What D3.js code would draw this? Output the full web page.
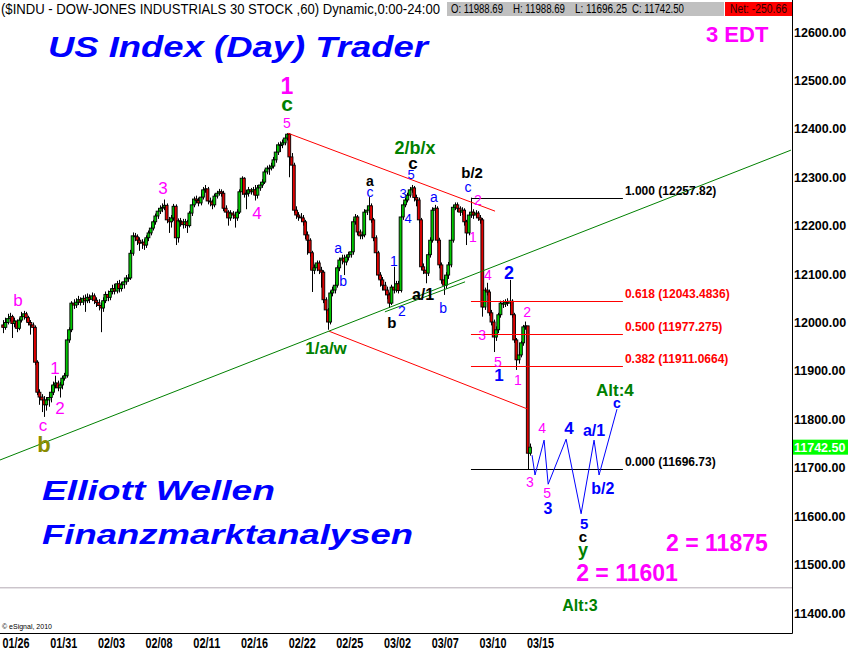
<!DOCTYPE html>
<html><head><meta charset="utf-8">
<script src="https://cdn.jsdelivr.net/npm/d3@7"></script>
<style>body{margin:0;background:#fff}svg{display:block}</style>
</head><body>
<svg id="c" width="848" height="653"></svg>
<script>
// ---------- DATA (hourly bars, 7 per trading day) ----------
const dates = ["01/26","01/27","01/28","01/31","02/01","02/02","02/03","02/04","02/07","02/08","02/09","02/10","02/11","02/14","02/15","02/16","02/17","02/18","02/22","02/23","02/24","02/25","02/28","03/01","03/02","03/03","03/04","03/07","03/08","03/09","03/10","03/11","03/14","03/15"];
const dateLabelDays = [0,3,6,9,12,15,18,21,24,27,30,33];
const firstOpen = 11995;
const closes = [
 [11990,12000,12008,12012,11998,12003,11988],
 [12005,12012,12018,12010,12000,11995,11990],
 [11918,11856,11846,11840,11830,11840,11845],
 [11856,11871,11875,11865,11871,11885,11890],
 [11964,11985,12040,12036,12042,12047,12042],
 [12050,12045,12052,12048,12055,12046,12041],
 [12035,12030,12045,12058,12052,12064,12070],
 [12065,12080,12070,12078,12084,12092,12092],
 [12143,12179,12177,12170,12164,12166,12160],
 [12175,12185,12195,12208,12220,12230,12236],
 [12238,12242,12212,12208,12216,12240,12175],
 [12210,12208,12202,12208,12200,12226,12243],
 [12255,12252,12247,12259,12274,12276,12251],
 [12249,12243,12261,12267,12270,12267,12236],
 [12228,12216,12226,12222,12216,12228,12270],
 [12298,12265,12267,12274,12270,12274,12263],
 [12278,12284,12290,12311,12319,12319,12323],
 [12336,12352,12367,12367,12371,12381,12389],
 [12342,12325,12232,12222,12218,12216,12208],
 [12181,12170,12144,12108,12113,12123,12108],
 [12104,12047,12026,12001,12061,12067,12077],
 [12113,12129,12133,12125,12135,12140,12146],
 [12208,12218,12187,12179,12181,12228,12232],
 [12241,12212,12175,12144,12098,12088,12077],
 [12067,12057,12040,12073,12067,12080,12066],
 [12218,12243,12253,12263,12274,12278,12258],
 [12253,12212,12115,12108,12102,12140,12170],
 [12232,12236,12170,12119,12088,12077,12098],
 [12119,12170,12238,12243,12236,12228,12232],
 [12208,12185,12222,12228,12222,12226,12216],
 [12212,12032,12067,12063,12020,12001,11970],
 [11985,12016,12040,12038,12042,12040,12044],
 [12016,11964,11923,11933,11958,11991,11993],
 [11730,11742.5]
];
const highs = [
 [12005,12010,12018,12020,12016,12010,12006],
 [12010,12022,12024,12022,12014,12005,12000],
 [11994,11922,11862,11852,11848,11846,11852],
 [11870,11878,11890,11880,11877,11890,11896],
 [11968,11990,12044,12048,12050,12055,12052],
 [12056,12058,12060,12058,12062,12060,12052],
 [12048,12040,12052,12064,12066,12070,12078],
 [12080,12086,12088,12084,12090,12098,12100],
 [12150,12186,12185,12182,12176,12172,12172],
 [12180,12190,12200,12212,12225,12236,12242],
 [12246,12254,12246,12218,12222,12245,12244],
 [12215,12216,12214,12214,12212,12230,12248],
 [12260,12262,12258,12266,12280,12284,12280],
 [12258,12254,12266,12272,12276,12275,12272],
 [12242,12232,12232,12230,12228,12234,12275],
 [12302,12300,12274,12280,12278,12280,12284],
 [12284,12290,12296,12316,12324,12326,12330],
 [12342,12358,12372,12374,12378,12386,12391],
 [12391,12350,12330,12240,12228,12226,12222],
 [12212,12188,12174,12148,12120,12128,12128],
 [12115,12108,12052,12030,12066,12074,12084],
 [12118,12134,12140,12140,12140,12146,12152],
 [12214,12224,12222,12192,12188,12234,12240],
 [12259,12246,12216,12180,12148,12104,12094],
 [12084,12074,12062,12078,12115,12086,12086],
 [12222,12248,12258,12268,12280,12284,12282],
 [12264,12258,12216,12122,12114,12145,12176],
 [12238,12243,12240,12175,12124,12094,12104],
 [12125,12175,12243,12248,12248,12240,12238],
 [12236,12212,12228,12257.82,12234,12232,12230],
 [12222,12216,12072,12082,12068,12026,12006],
 [11992,12020,12045,12046,12048,12050,12088],
 [12048,12020,11968,11940,11962,11995,12002],
 [11993,11750]
];
const lows = [
 [11978,11985,11996,12002,11968,11990,11980],
 [11984,12000,12006,12002,11994,11975,11982],
 [11912,11850,11830,11815,11805,11818,11826],
 [11835,11850,11864,11858,11845,11862,11880],
 [11886,11958,11980,12028,12030,12036,12035],
 [12036,12022,12040,12040,12044,12038,12032],
 [12025,11980,12022,12040,12044,12046,12058],
 [12058,12060,12062,12064,12070,12078,12084],
 [12088,12138,12168,12160,12148,12152,12150],
 [12154,12168,12180,12190,12202,12214,12224],
 [12228,12232,12205,12185,12196,12210,12160],
 [12165,12198,12194,12195,12185,12196,12220],
 [12238,12246,12240,12242,12254,12268,12244],
 [12240,12234,12238,12256,12262,12260,12230],
 [12220,12200,12210,12214,12196,12210,12224],
 [12264,12258,12234,12260,12264,12264,12252],
 [12256,12272,12278,12286,12306,12305,12314],
 [12318,12330,12346,12352,12360,12366,12376],
 [12300,12318,12226,12214,12210,12208,12200],
 [12172,12140,12136,12063,12100,12106,12100],
 [12072,12040,12018,11985,11996,12054,12060],
 [12072,12106,12120,12098,12118,12128,12134],
 [12140,12202,12180,12172,12172,12176,12222],
 [12226,12206,12168,12136,12090,12074,12066],
 [12058,12048,12030,12036,12060,12062,12060],
 [12062,12212,12238,12248,12258,12268,12250],
 [12240,12205,12108,12100,12081,12096,12134],
 [12165,12226,12164,12112,12080,12057,12070],
 [12090,12114,12165,12232,12228,12220,12222],
 [12200,12160,12180,12216,12214,12216,12210],
 [12204,12012,12026,12056,12014,11994,11939],
 [11962,11978,12010,12030,12032,12034,12034],
 [12010,11958,11902,11915,11928,11952,11985],
 [11696.25,11725]
];
const yTicks = [12600,12500,12400,12300,12200,12100,12000,11900,11800,11700,11600,11500,11400];
const lastPrice = 11742.50;
const headerTitle = "($INDU - DOW-JONES INDUSTRIALS 30 STOCK ,60) Dynamic,0:00-24:00";
const quoteFields = ["O: 11988.69","H: 11988.69","L: 11696.25","C: 11742.50"];
const netText = "Net: -250.66";
// trend lines: [barIndex, price]
const upperChannel = [[125.4,12391],[216.6,12230]];
const lowerChannel = [[143.5,11982],[231.1,11821]];
const greenTrend = [[-1.4,11716],[346.9,12356]];
const greenTrend2 = [[168.1,12022],[203.4,12084]];
const grayLevel = 11452;
// Fibonacci retracement
const fibRatios = [1.000,0.618,0.500,0.382,0.000];
const fibValues = [12257.82,12043.4836,11977.275,11911.0664,11696.73];
const fibColors = ["#000","#ff0000","#ff0000","#ff0000","#000"];
const fibStart = 206.0, fibEnd = 272.9, fibTextAt = 273.8;
// projected wave path
const projBars = [232.9,234.2,238.2,240.0,247.9,254.5,260.2,262.4,270.3];
const projVals = [11726,11685,11757,11666,11759,11605,11757,11685,11821];
// wave labels: [barIndex, price, text, colour, size, weight]
const M="#ff00ff",B="#0000ff",G="#008000",K="#000000",O="#8a8c00";
const waveLabels = [
 [125.0,12488,"1",M,23,"bold"],[125.0,12451,"c",G,21,"bold"],[125.0,12412,"5",M,14,"normal"],
 [70.4,12278,"3",M,17,"normal"],[111.8,12226,"4",M,17,"normal"],[6.5,12047,"b",M,17,"normal"],
 [22.8,11906,"1",M,17,"normal"],[25.0,11823,"2",M,17,"normal"],[17.6,11788,"c",M,17,"normal"],
 [18.0,11749,"b",O,22,"bold"],
 [142.2,11947,"1/a/w",G,17,"bold"],[147.5,12154,"a",B,14,"normal"],[149.7,12086,"b",B,14,"normal"],
 [161.5,12292,"a",K,14,"bold"],[161.5,12270,"c",B,14,"normal"],[176.1,12267,"3",B,13,"normal"],
 [179.6,12305,"5",B,13,"normal"],[180.5,12329,"c",K,17,"bold"],[181.4,12362,"2/b/x",G,18,"bold"],
 [178.3,12214,"4",B,13,"normal"],[189.7,12259,"a",B,14,"normal"],[172.1,12127,"1",B,14,"normal"],
 [175.6,12024,"2",B,14,"normal"],[171.2,11999,"b",K,15,"bold"],[184.9,12059,"a/1",K,16,"bold"],
 [193.7,12030,"b",B,14,"normal"],[206.5,12309,"b/2",K,15,"bold"],[204.7,12280,"c",B,14,"normal"],
 [209.1,12253,"2",M,14,"normal"],[206.9,12177,"1",M,14,"normal"],[213.5,12098,"4",M,14,"normal"],
 [222.8,12102,"2",B,18,"bold"],[210.9,11974,"3",M,14,"normal"],[217.9,11918,"5",M,14,"normal"],
 [218.3,11892,"1",B,17,"bold"],[226.7,11881,"1",M,14,"normal"],[230.7,12022,"2",M,14,"normal"],
 [232.0,11671,"3",M,14,"normal"],[237.3,11782,"4",M,14,"normal"],
 [269.4,11861,"Alt:4",G,17,"bold"],[270.3,11834,"c",B,14,"bold"],[249.2,11782,"4",B,17,"bold"],
 [260.2,11778,"a/1",B,16,"bold"],[239.5,11648,"5",M,14,"normal"],[239.9,11617,"3",B,16,"bold"],
 [264.1,11658,"b/2",B,16,"bold"],[255.8,11584,"5",B,15,"bold"],[255.3,11558,"c",K,15,"bold"],
 [255.3,11531,"y",G,18,"bold"],
 [314.3,11545,"2 = 11875",M,23,"bold"],[274.7,11483,"2 = 11601",M,23,"bold"],[254.0,11415,"Alt:3",G,16,"bold"]
];

// ---------- CHART ----------
const svg = d3.select("#c");
const plotRight = 792, plotTop = 18, plotBottom = 633;
const x = d3.scaleLinear().domain([0,231]).range([3.14, 3.14+231*2.271]);
const y = d3.scaleLinear().domain([11400,12600]).range([613,32]);
const SANS = "'Liberation Sans', Arial, sans-serif";

svg.append("rect").attr("width",848).attr("height",653).attr("fill","#fff");
svg.append("clipPath").attr("id","clip").append("rect")
  .attr("x",0).attr("y",plotTop).attr("width",plotRight).attr("height",plotBottom-plotTop);

const bars = [];
let prev = firstOpen;
closes.forEach((day,d)=>day.forEach((c,k)=>{
  bars.push({i:d*7+k,o:prev,c:c,h:highs[d][k],l:lows[d][k]}); prev = c;
}));

const plot = svg.append("g").attr("clip-path","url(#clip)");
const line = d3.line().x(d=>x(d[0])).y(d=>y(d[1]));

// gray level
plot.append("line").attr("x1",0).attr("x2",plotRight).attr("y1",y(grayLevel)).attr("y2",y(grayLevel))
  .attr("stroke","#b4aab4").attr("stroke-width",1);

// candles
plot.append("g").selectAll("line").data(bars).join("line")
  .attr("x1",d=>Math.round(x(d.i))+0.5).attr("x2",d=>Math.round(x(d.i))+0.5)
  .attr("y1",d=>y(d.h)).attr("y2",d=>y(d.l)).attr("stroke","#000").attr("stroke-width",1);
plot.append("g").selectAll("rect").data(bars).join("rect")
  .attr("x",d=>x(d.i)-1.4).attr("width",2.8)
  .attr("y",d=>y(Math.max(d.o,d.c))).attr("height",d=>Math.max(0.8,Math.abs(y(d.o)-y(d.c))))
  .attr("fill",d=>d.c>=d.o?"#00c800":"#e00000").attr("stroke","#000").attr("stroke-width",0.9);

// trend lines
plot.append("path").attr("d",line(upperChannel)).attr("stroke","#ff0000").attr("fill","none");
plot.append("path").attr("d",line(lowerChannel)).attr("stroke","#ff0000").attr("fill","none");
plot.append("path").attr("d",line(greenTrend)).attr("stroke","#008000").attr("fill","none");
plot.append("path").attr("d",line(greenTrend2)).attr("stroke","#008000").attr("fill","none");

// fib levels
fibValues.forEach((v,k)=>{
  plot.append("line").attr("x1",x(fibStart)).attr("x2",x(fibEnd)).attr("y1",Math.round(y(v))+0.5).attr("y2",Math.round(y(v))+0.5)
    .attr("stroke",fibColors[k]).attr("stroke-width",1);
  svg.append("text").attr("x",x(fibTextAt)).attr("y",y(v)-3)
    .attr("font-family",SANS).attr("font-weight","bold").attr("font-size",12).attr("fill",fibColors[k])
    .text(fibRatios[k].toFixed(3)+" ("+fibValues[k]+")");
});

// projection zigzag
plot.append("path").attr("d",line(projBars.map((b,k)=>[b,projVals[k]])))
  .attr("stroke","#0000ff").attr("fill","none").attr("stroke-width",1);

// wave labels
svg.append("g").selectAll("text").data(waveLabels).join("text")
  .attr("x",d=>x(d[0])).attr("y",d=>y(d[1])).attr("dy","0.35em")
  .attr("text-anchor","middle").attr("font-family",SANS)
  .attr("font-size",d=>d[4]).attr("font-weight",d=>d[5]).attr("fill",d=>d[3]).text(d=>d[2]);

// titles
function title(t,xx,yy,len,size,col){
  svg.append("text").attr("x",xx).attr("y",yy).attr("font-family",SANS).attr("font-weight","bold")
   .attr("font-style","italic").attr("font-size",size).attr("fill",col)
   .attr("textLength",len).attr("lengthAdjust","spacingAndGlyphs").text(t);
}
title("US Index (Day) Trader",48,57,380,29,"#0000ff");
title("Elliott Wellen",42,500,233,28,"#0000ff");
title("Finanzmarktanalysen",42,544,371,28,"#0000ff");
svg.append("text").attr("x",706).attr("y",42).attr("font-family",SANS).attr("font-weight","bold")
  .attr("font-size",22).attr("fill","#ff00ff").text("3 EDT");

// frame
svg.append("line").attr("x1",plotRight+0.5).attr("x2",plotRight+0.5).attr("y1",0).attr("y2",plotBottom+0.5).attr("stroke","#000");
svg.append("line").attr("x1",0).attr("x2",plotRight+0.5).attr("y1",plotBottom+0.5).attr("y2",plotBottom+0.5).attr("stroke","#000");
svg.append("text").attr("x",2).attr("y",629).attr("font-family",SANS).attr("font-size",7).attr("fill","#000").text("\u00a9 eSignal, 2010");

// y axis
const yAxis = svg.append("g").attr("transform",`translate(${plotRight},0)`)
  .call(d3.axisRight(y).tickValues(yTicks).tickFormat(d3.format(".2f")).tickSize(0).tickPadding(2));
yAxis.select(".domain").remove();
yAxis.selectAll("text").attr("font-family",SANS).attr("font-weight","bold").attr("font-size",12.5).attr("fill","#000");

// last price tag
svg.append("rect").attr("x",plotRight+1).attr("y",y(lastPrice)-7.5).attr("width",56).attr("height",15).attr("fill","#00ff00");
svg.append("text").attr("x",plotRight+2).attr("y",y(lastPrice)).attr("dy","0.36em").attr("font-family",SANS)
  .attr("font-weight","bold").attr("font-size",12.5).attr("fill","#fff").text(d3.format(".2f")(lastPrice));

// x axis
const xAxis = svg.append("g").attr("transform",`translate(0,${plotBottom})`)
  .call(d3.axisBottom(x).tickValues(dateLabelDays.map(d=>d*7-0.5)).tickFormat(v=>dates[Math.round((v+0.5)/7)]).tickSize(0).tickPadding(5));
xAxis.select(".domain").remove();
xAxis.selectAll("text").attr("text-anchor","start").attr("font-family",SANS).attr("font-weight","bold")
  .attr("font-size",14).attr("fill","#000").attr("textLength",27).attr("lengthAdjust","spacingAndGlyphs");

// header
svg.append("text").attr("x",1).attr("y",14).attr("font-family",SANS).attr("font-size",14).attr("fill","#000")
  .attr("textLength",439).attr("lengthAdjust","spacingAndGlyphs").text(headerTitle);
svg.append("rect").attr("x",447).attr("y",2).attr("width",277).attr("height",14).attr("fill","#c0c0c0");
svg.append("rect").attr("x",725).attr("y",2).attr("width",67).attr("height",14).attr("fill","#ff0000");
const qx = [451,513,575,632];
quoteFields.forEach((t,k)=>svg.append("text").attr("x",qx[k]).attr("y",13).attr("font-family",SANS)
  .attr("font-size",12).attr("fill","#000").attr("textLength",52).attr("lengthAdjust","spacingAndGlyphs").text(t));
svg.append("text").attr("x",730).attr("y",13).attr("font-family",SANS).attr("font-size",12).attr("fill","#300000")
  .attr("textLength",57).attr("lengthAdjust","spacingAndGlyphs").text(netText);
</script>
</body></html>
